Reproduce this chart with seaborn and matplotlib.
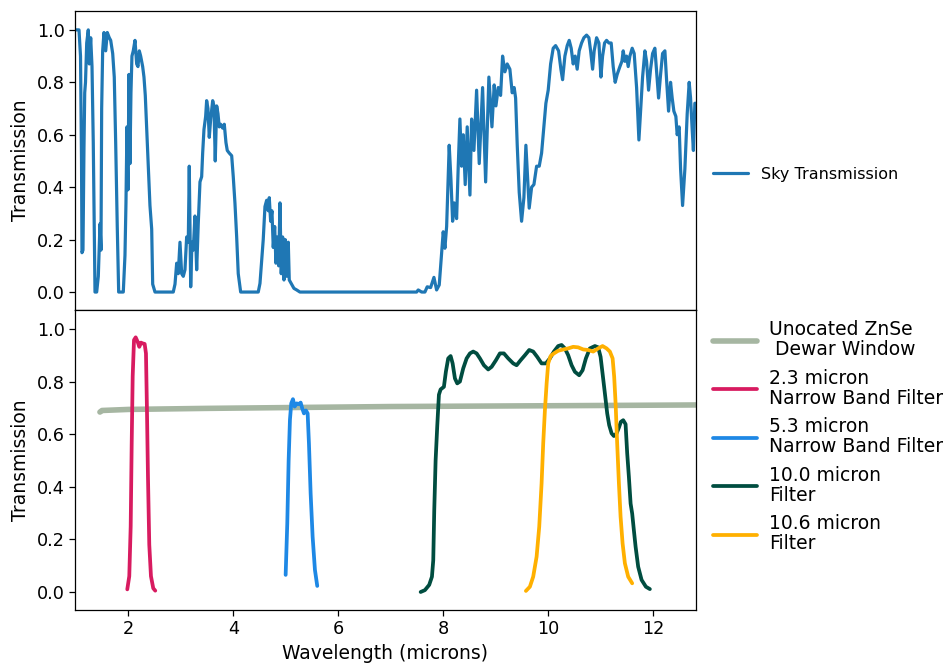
import numpy as np
import pandas as pd
import matplotlib
matplotlib.use("Agg")
import matplotlib.pyplot as plt
import seaborn as sns

# ---------------- data ----------------
sky_wl = [1.004, 1.061, 1.090, 1.109, 1.118, 1.137, 1.156, 1.170, 1.185, 1.208,
          1.238, 1.257, 1.284, 1.309, 1.333, 1.352, 1.366, 1.398, 1.429, 1.461,
          1.480, 1.493, 1.512, 1.537, 1.570, 1.600, 1.638, 1.665, 1.703, 1.733,
          1.760, 1.790, 1.817, 1.905, 1.937, 1.956, 1.975, 1.994, 2.013, 2.032,
          2.051, 2.070, 2.095, 2.128, 2.160, 2.185, 2.210, 2.236, 2.274, 2.299,
          2.324, 2.350, 2.381, 2.413, 2.446, 2.465, 2.509, 2.857,
          2.890, 2.922, 2.952, 2.985, 3.017, 3.048, 3.080, 3.112, 3.143, 3.162,
          3.189, 3.213, 3.238, 3.270, 3.303, 3.333, 3.366, 3.398, 3.417, 3.442,
          3.474, 3.493, 3.518, 3.543, 3.570, 3.608, 3.632, 3.657, 3.684, 3.709,
          3.733, 3.760, 3.798, 3.829, 3.861, 3.886, 3.924, 3.970, 4.000, 4.032,
          4.065, 4.095, 4.141, 4.476,
          4.509, 4.571, 4.604, 4.636, 4.667, 4.686, 4.712, 4.737, 4.762, 4.789,
          4.813, 4.838, 4.865, 4.890, 4.914, 4.941, 4.966, 4.990, 5.017, 5.048,
          5.067, 5.112, 5.156, 5.208, 5.270, 7.493,
          7.524, 7.589, 7.651, 7.695, 7.760, 7.823, 7.874, 7.924, 7.970, 8.000,
          8.032, 8.065, 8.114, 8.147, 8.179, 8.210, 8.255, 8.286, 8.318, 8.350,
          8.381, 8.419, 8.457, 8.509, 8.541, 8.585, 8.636, 8.686, 8.750, 8.808,
          8.870, 8.928, 8.971, 9.004, 9.048, 9.093, 9.131, 9.175, 9.219, 9.270,
          9.314, 9.352, 9.379, 9.410, 9.448, 9.493, 9.537, 9.575, 9.608, 9.638,
          9.684, 9.728, 9.779, 9.829, 9.874, 9.918, 9.956, 10.000, 10.046, 10.095,
          10.141, 10.198, 10.242, 10.274, 10.318, 10.362, 10.400, 10.438, 10.476, 10.514,
          10.552, 10.590, 10.636, 10.680, 10.731, 10.775, 10.808, 10.846, 10.876, 10.922,
          10.966, 11.004, 11.036, 11.074, 11.112, 11.156, 11.200, 11.238, 11.276, 11.314,
          11.366, 11.404, 11.429, 11.461, 11.493, 11.524, 11.556, 11.600, 11.638, 11.684,
          11.728, 11.760, 11.798, 11.842, 11.874, 11.912, 11.950, 11.989, 12.032, 12.065,
          12.103, 12.141, 12.179, 12.223, 12.255, 12.293, 12.331, 12.362, 12.394, 12.432,
          12.457, 12.495, 12.522, 12.560, 12.604, 12.648, 12.686, 12.712, 12.743, 12.766,
          12.794, 12.810]
sky_tr = [1.00, 1.00, 0.90, 0.50, 0.15, 0.16, 0.55, 0.76, 0.80, 0.95,
          1.00, 0.87, 0.97, 0.86, 0.57, 0.25, 0.00, 0.00, 0.06, 0.26,
          0.16, 0.70, 0.92, 0.99, 0.92, 0.99, 0.97, 0.96, 0.91, 0.82,
          0.57, 0.25, 0.00, 0.00, 0.14, 0.34, 0.63, 0.39, 0.83, 0.49,
          0.76, 0.90, 0.92, 0.96, 0.87, 0.86, 0.92, 0.90, 0.86, 0.82,
          0.75, 0.63, 0.48, 0.33, 0.24, 0.03, 0.00, 0.00,
          0.03, 0.11, 0.07, 0.19, 0.07, 0.06, 0.085, 0.21, 0.19, 0.48,
          0.02, 0.19, 0.16, 0.29, 0.085, 0.26, 0.42, 0.44, 0.53, 0.62,
          0.67, 0.73, 0.70, 0.59, 0.66, 0.73, 0.71, 0.50, 0.71, 0.68,
          0.63, 0.64, 0.625, 0.64, 0.57, 0.54, 0.53, 0.52, 0.44, 0.34,
          0.21, 0.07, 0.00, 0.00,
          0.033, 0.20, 0.326, 0.35, 0.31, 0.36, 0.27, 0.31, 0.17, 0.25,
          0.11, 0.21, 0.10, 0.34, 0.07, 0.21, 0.046, 0.20, 0.06, 0.19,
          0.046, 0.03, 0.014, 0.008, 0.00, 0.00,
          0.008, 0.00, 0.00, 0.02, 0.017, 0.056, 0.008, 0.027, 0.15, 0.23,
          0.167, 0.25, 0.56, 0.43, 0.27, 0.34, 0.28, 0.48, 0.66, 0.48,
          0.60, 0.41, 0.63, 0.37, 0.66, 0.54, 0.77, 0.49, 0.78, 0.42,
          0.82, 0.63, 0.79, 0.71, 0.78, 0.75, 0.90, 0.84, 0.87, 0.85,
          0.76, 0.78, 0.74, 0.56, 0.38, 0.27, 0.36, 0.56, 0.43, 0.32,
          0.40, 0.41, 0.48, 0.48, 0.53, 0.63, 0.72, 0.77, 0.87, 0.93,
          0.94, 0.92, 0.85, 0.81, 0.90, 0.94, 0.96, 0.93, 0.87, 0.90,
          0.85, 0.92, 0.95, 0.97, 0.98, 0.97, 0.92, 0.85, 0.92, 0.97,
          0.95, 0.82, 0.90, 0.95, 0.96, 0.95, 0.95, 0.86, 0.80, 0.83,
          0.86, 0.88, 0.92, 0.88, 0.90, 0.86, 0.90, 0.93, 0.91, 0.78,
          0.58, 0.69, 0.82, 0.92, 0.88, 0.77, 0.85, 0.91, 0.93, 0.84,
          0.74, 0.83, 0.91, 0.92, 0.81, 0.69, 0.80, 0.74, 0.69, 0.67,
          0.60, 0.63, 0.47, 0.33, 0.47, 0.68, 0.80, 0.74, 0.62, 0.54,
          0.72, 0.72]

znse_wl = [1.46, 1.50, 2.00, 3.50, 5.00, 7.00, 9.00, 11.00, 12.81]
znse_tr = [0.684, 0.690, 0.694, 0.698, 0.701, 0.705, 0.707, 0.709, 0.711]

f23_wl = [1.981, 2.019, 2.046, 2.065, 2.084, 2.109, 2.141, 2.179, 2.210, 2.242,
          2.274, 2.312, 2.337, 2.356, 2.375, 2.400, 2.432, 2.476, 2.514]
f23_tr = [0.010, 0.060, 0.250, 0.564, 0.820, 0.958, 0.968, 0.951, 0.932, 0.948,
          0.945, 0.943, 0.907, 0.690, 0.440, 0.180, 0.060, 0.014, 0.005]

f53_wl = [4.998, 5.029, 5.055, 5.080, 5.105, 5.137, 5.170, 5.208, 5.246, 5.284,
          5.314, 5.347, 5.385, 5.417, 5.442, 5.474, 5.512, 5.556, 5.600]
f53_tr = [0.065, 0.260, 0.500, 0.655, 0.717, 0.733, 0.705, 0.717, 0.714, 0.720,
          0.698, 0.679, 0.690, 0.679, 0.564, 0.375, 0.210, 0.084, 0.023]

f100_wl = [7.570, 7.651, 7.733, 7.785, 7.810, 7.829, 7.855, 7.886, 7.918, 7.950,
           8.013, 8.051, 8.095, 8.141, 8.179, 8.223, 8.267, 8.318, 8.381, 8.446,
           8.509, 8.571, 8.636, 8.699, 8.775, 8.857, 8.922, 9.004, 9.080, 9.156,
           9.238, 9.333, 9.398, 9.474, 9.556, 9.638, 9.714, 9.790, 9.874, 9.956,
           10.032, 10.109, 10.190, 10.255, 10.318, 10.381, 10.446, 10.509, 10.590, 10.655,
           10.718, 10.794, 10.890, 10.952, 10.998, 11.036, 11.080, 11.124, 11.162, 11.208,
           11.251, 11.303, 11.347, 11.385, 11.429, 11.474, 11.505, 11.537, 11.570, 11.600,
           11.632, 11.665, 11.714, 11.779, 11.861, 11.937]
f100_tr = [0.000, 0.007, 0.027, 0.058, 0.120, 0.310, 0.500, 0.630, 0.750, 0.770,
           0.780, 0.838, 0.888, 0.897, 0.869, 0.812, 0.793, 0.800, 0.850, 0.888,
           0.907, 0.914, 0.907, 0.888, 0.862, 0.846, 0.856, 0.881, 0.907, 0.907,
           0.888, 0.869, 0.862, 0.881, 0.900, 0.920, 0.914, 0.894, 0.869, 0.869,
           0.888, 0.914, 0.935, 0.939, 0.926, 0.900, 0.862, 0.837, 0.824, 0.843,
           0.888, 0.926, 0.935, 0.930, 0.894, 0.830, 0.755, 0.679, 0.634, 0.603,
           0.593, 0.603, 0.625, 0.647, 0.653, 0.638, 0.527, 0.438, 0.336, 0.298,
           0.235, 0.172, 0.096, 0.046, 0.020, 0.011]

f106_wl = [9.575, 9.651, 9.714, 9.779, 9.829, 9.874, 9.905, 9.937, 9.970, 10.000,
           10.046, 10.109, 10.190, 10.286, 10.381, 10.476, 10.571, 10.667, 10.762, 10.857,
           10.952, 11.036, 11.112, 11.175, 11.227, 11.257, 11.284, 11.314, 11.347, 11.379,
           11.417, 11.461, 11.524, 11.600]
f106_tr = [0.004, 0.020, 0.058, 0.134, 0.248, 0.413, 0.565, 0.690, 0.793, 0.869,
           0.897, 0.907, 0.917, 0.922, 0.926, 0.932, 0.930, 0.922, 0.920, 0.914,
           0.926, 0.935, 0.926, 0.914, 0.888, 0.818, 0.717, 0.565, 0.413, 0.286,
           0.185, 0.109, 0.058, 0.033]

series_bottom = [
    ("Unocated ZnSe\n Dewar Window", znse_wl, znse_tr, "#a6b6a2", 4.0),
    ("2.3 micron\nNarrow Band Filter", f23_wl, f23_tr, "#d81b60", 2.7),
    ("5.3 micron\nNarrow Band Filter", f53_wl, f53_tr, "#1e88e5", 2.7),
    ("10.0 micron\nFilter", f100_wl, f100_tr, "#004d40", 2.7),
    ("10.6 micron\nFilter", f106_wl, f106_tr, "#ffb000", 2.7),
]

x_ticks = [2, 4, 6, 8, 10, 12]
y_ticks = [0.0, 0.2, 0.4, 0.6, 0.8, 1.0]

# ---------------- figure ----------------
sns.set_style("ticks")
plt.rcParams["font.family"] = ["DejaVu Sans"]
plt.rcParams["text.color"] = "black"
plt.rcParams["axes.labelcolor"] = "black"
plt.rcParams["xtick.color"] = "black"
plt.rcParams["ytick.color"] = "black"

W, H = 952, 666
fig = plt.figure(figsize=(W / 100, H / 100), dpi=100)
left, right = 75 / W, 695.7 / W
ax1 = fig.add_axes([left, 1 - 310 / H, right - left, (310 - 11) / H])
ax2 = fig.add_axes([left, 1 - 610 / H, right - left, (610 - 310) / H], sharex=ax1)

sky_df = pd.DataFrame({"wl": sky_wl, "tr": sky_tr})
sns.lineplot(data=sky_df, x="wl", y="tr", ax=ax1, color="#1f77b4", linewidth=2.3,
             sort=False, estimator=None, label="Sky Transmission")

for lab, wl, tr, col, lw in series_bottom:
    d = pd.DataFrame({"wl": wl, "tr": tr})
    sns.lineplot(data=d, x="wl", y="tr", ax=ax2, color=col, linewidth=lw,
                 sort=False, estimator=None, label=lab)

for ax in (ax1, ax2):
    ax.set_xlim(0.985, 12.81)
    ax.set_ylim(-0.0685, 1.072)
    ax.set_yticks(y_ticks)
    ax.set_yticklabels([f"{v:.1f}" for v in y_ticks])
    ax.tick_params(axis="both", labelsize=12.7, length=4, width=0.9,
                   color="black", labelcolor="black")
    ax.set_ylabel("Transmission", fontsize=13.5, color="black")
    for s in ax.spines.values():
        s.set_visible(True)
        s.set_color("black")
        s.set_linewidth(0.9)

ax2.set_xticks(x_ticks)
ax2.set_xticklabels([str(v) for v in x_ticks])
ax1.tick_params(axis="x", labelbottom=False)
ax1.set_xlabel("")
ax2.set_xlabel("Wavelength (microns)", fontsize=13.5, color="black")
ax1.yaxis.set_label_coords(-0.073, 0.5)
ax2.yaxis.set_label_coords(-0.073, 0.5)

leg1 = ax1.legend(loc="center left", bbox_to_anchor=(713 / W, 1 - 174.3 / H),
                  bbox_transform=fig.transFigure, frameon=False, fontsize=11.5,
                  borderpad=0, borderaxespad=0, handlelength=2.2, handletextpad=0.8)
leg2 = ax2.legend(loc="center left", bbox_to_anchor=(713 / W, 1 - 436.7 / H),
                  bbox_transform=fig.transFigure, frameon=False, fontsize=13.5,
                  borderpad=0, borderaxespad=0, handlelength=2.35, handletextpad=0.64,
                  labelspacing=0.52)
for leg in (leg1, leg2):
    for t in leg.get_texts():
        t.set_color("black")
for t in leg2.get_texts():
    t.set_linespacing(1.05)

fig.savefig("out.png", dpi=100)
